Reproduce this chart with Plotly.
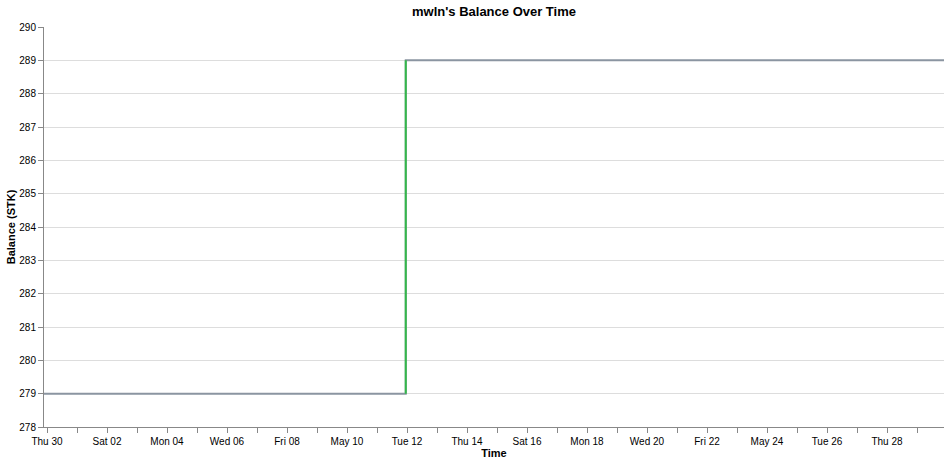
import pandas as pd
import plotly.graph_objs as go

# Balance history (step changes)
times = ["2020-04-29 21:36", "2020-05-11 23:00", "2020-05-29 21:36"]
balances = [279, 289, 289]

# Increase marker (vertical green segment)
rise_times = ["2020-05-11 23:00", "2020-05-11 23:00"]
rise_values = [279, 289]

# Daily ticks, labels every other day
tick_dates = list(pd.date_range("2020-04-30", "2020-05-29", freq="D"))
tick_labels = ["Thu 30", "", "Sat 02", "", "Mon 04", "", "Wed 06", "", "Fri 08", "",
               "May 10", "", "Tue 12", "", "Thu 14", "", "Sat 16", "", "Mon 18", "",
               "Wed 20", "", "Fri 22", "", "May 24", "", "Tue 26", "", "Thu 28", ""]

y_ticks = list(range(278, 291))

font_family = "Liberation Sans, Arial, sans-serif"

fig = go.Figure()

fig.add_scatter(
    x=times,
    y=balances,
    mode='lines',
    line={'color': '#8b95a1', 'width': 2, 'shape': 'hv'},
    hoverinfo='skip',
    showlegend=False,
)

fig.add_scatter(
    x=rise_times,
    y=rise_values,
    mode='lines',
    line={'color': '#33b84a', 'width': 2},
    hoverinfo='skip',
    showlegend=False,
)

fig.update_layout(
    width=951,
    height=464,
    margin=dict(l=44, r=7, t=27, b=37, autoexpand=False),
    paper_bgcolor='white',
    plot_bgcolor='white',
    font=dict(family=font_family, size=10, color='#000'),
    title=dict(
        text="mwln's Balance Over Time",
        xref='paper',
        x=0.5,
        xanchor='center',
        y=1 - 11 / 464,
        yanchor='middle',
        font=dict(size=13, weight='bold', color='#000'),
    ),
    xaxis=dict(
        type='date',
        range=[times[0], times[-1]],
        tickmode='array',
        tickvals=tick_dates,
        ticktext=tick_labels,
        ticks='outside',
        ticklen=5,
        tickcolor='#888',
        showline=True,
        linecolor='#888',
        linewidth=1,
        showgrid=False,
        zeroline=False,
        automargin=False,
        title=dict(text="Time", font=dict(size=11, weight='bold'), standoff=2),
    ),
    yaxis=dict(
        range=[278, 290],
        tickmode='array',
        tickvals=y_ticks,
        ticks='outside',
        ticklen=5,
        tickcolor='#888',
        showline=True,
        linecolor='#888',
        linewidth=1,
        showgrid=True,
        gridcolor='#ddd',
        gridwidth=1,
        zeroline=False,
        automargin=False,
        title=dict(text="Balance (STK)", font=dict(size=11, weight='bold'), standoff=1),
    ),
)

# drop the page's default body margin so the chart sits at the window's corner
fig.write_html("out.html", config={'displayModeBar': False},
               post_script="document.body.style.margin='0';")
